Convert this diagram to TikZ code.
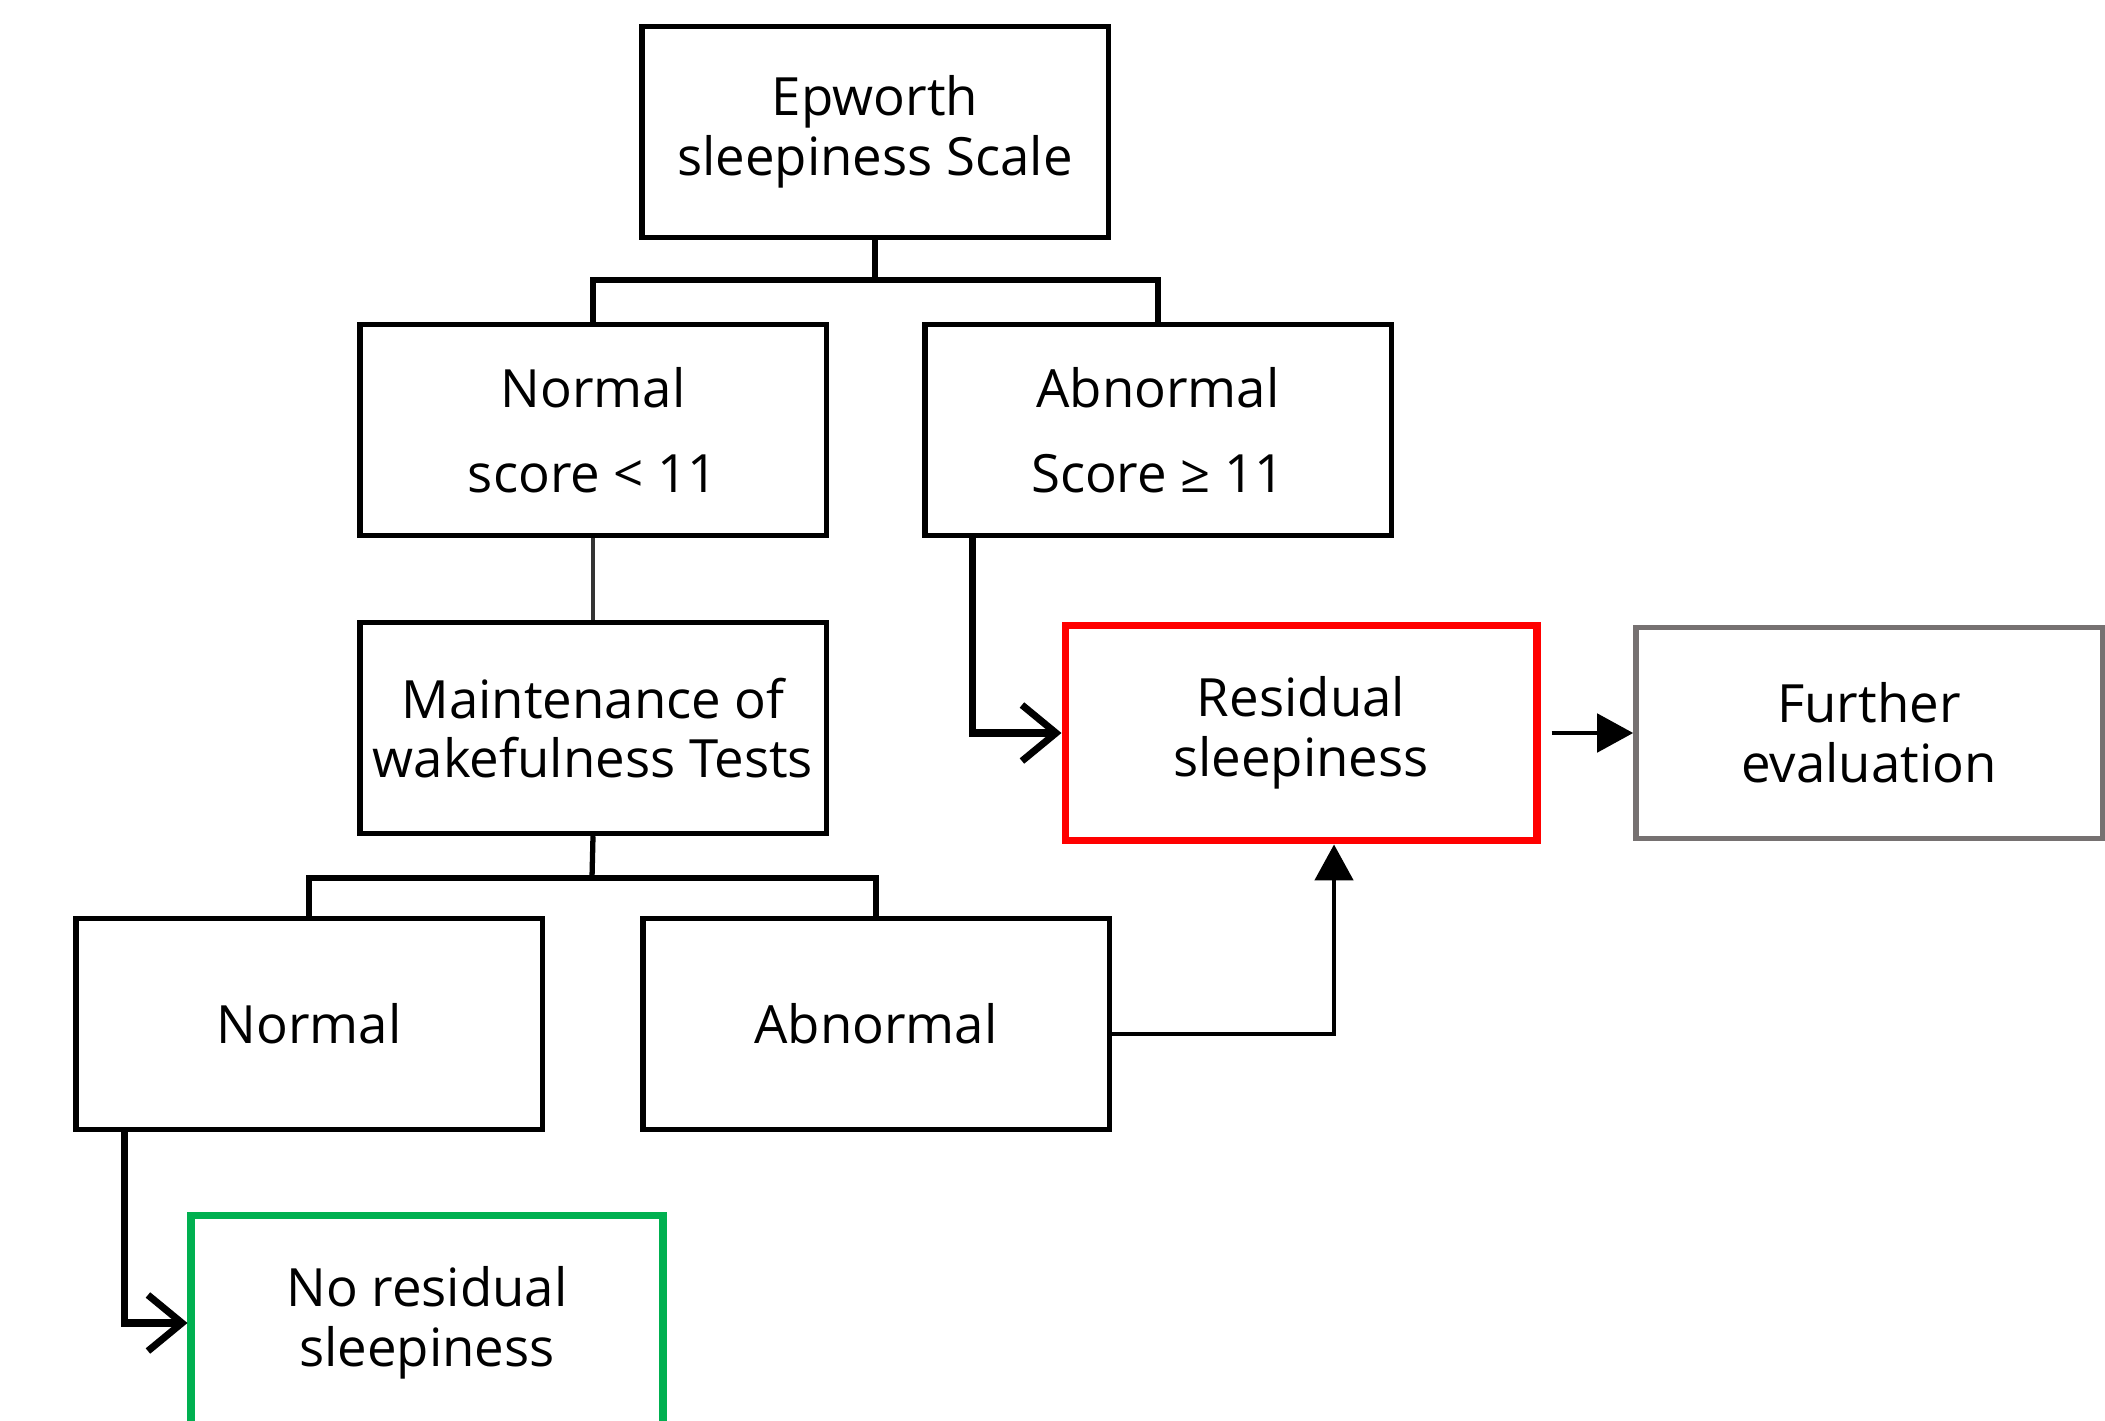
\documentclass[tikz,border=0pt]{standalone}
\usepackage{fontspec}
\setmainfont{Open Sans}
\usetikzlibrary{arrows.meta}
\definecolor{grn}{HTML}{00B050}
\definecolor{gry}{HTML}{767171}
\begin{document}
\begin{tikzpicture}[x=0.01cm,y=-0.01cm,
  box/.style={draw=black, line width=1.5pt, fill=white, minimum width=4.66cm, minimum height=2.11cm, inner sep=0pt, align=center, font=\fontsize{15}{17}\selectfont},
  redbox/.style={box, draw=red, line width=2.2pt, minimum width=4.71cm, minimum height=2.15cm},
  grnbox/.style={box, draw=grn, line width=2.2pt, minimum width=4.71cm, minimum height=2.15cm},
  grybox/.style={box, draw=gry, line width=1.5pt},
  conn/.style={draw=black, line width=1.5pt},
  openarrow/.style={conn, line width=2pt, -{Straight Barb[length=0.34cm, width=0.56cm]}},
  triarrow/.style={conn, line width=1.4pt, -{Triangle[length=0.36cm, width=0.38cm]}}
]
\useasboundingbox (0,0) rectangle (2105,1421);
\node[box] (esc) at (875,132) {Epworth\\sleepiness Scale};
\node[box] (nrm) at (593,430) {Normal\\[0.25cm]score < 11};
\node[box] (abn) at (1158,430) {Abnormal\\[0.25cm]Score ≥ 11};
\node[box] (mwt) at (593,728) {Maintenance of\\wakefulness Tests};
\node[box] (nn) at (309,1024) {Normal};
\node[box] (na) at (876,1024) {Abnormal};
\node[redbox] (res) at (1301,733) {Residual\\sleepiness};
\node[grybox] (fur) at (1869,733) {Further\\evaluation};
\node[grnbox] (nores) at (427,1323) {No residual\\sleepiness};

\coordinate (j1) at (875,280);
\coordinate (j2) at (592,878);
\draw[conn] (esc.south) -- (j1);
\draw[conn] (nrm.north) |- (j1) -| (abn.north);
\draw[conn, line width=1.1pt, draw=black!80] (nrm.south) -- (mwt.north);
\draw[conn] (mwt.south) -- (j2);
\draw[conn] (nn.north) |- (j2) -| (na.north);
\draw[openarrow] ([xshift=-1.85cm]abn.south) |- (res.west);
\draw[triarrow] ([xshift=0.11cm]res.east) -- (fur.west);
\draw[triarrow] ([yshift=-0.1cm]na.east) -| ([xshift=0.33cm]res.south);
\draw[openarrow] ([xshift=-1.84cm]nn.south) |- (nores.west);
\end{tikzpicture}
\end{document}
